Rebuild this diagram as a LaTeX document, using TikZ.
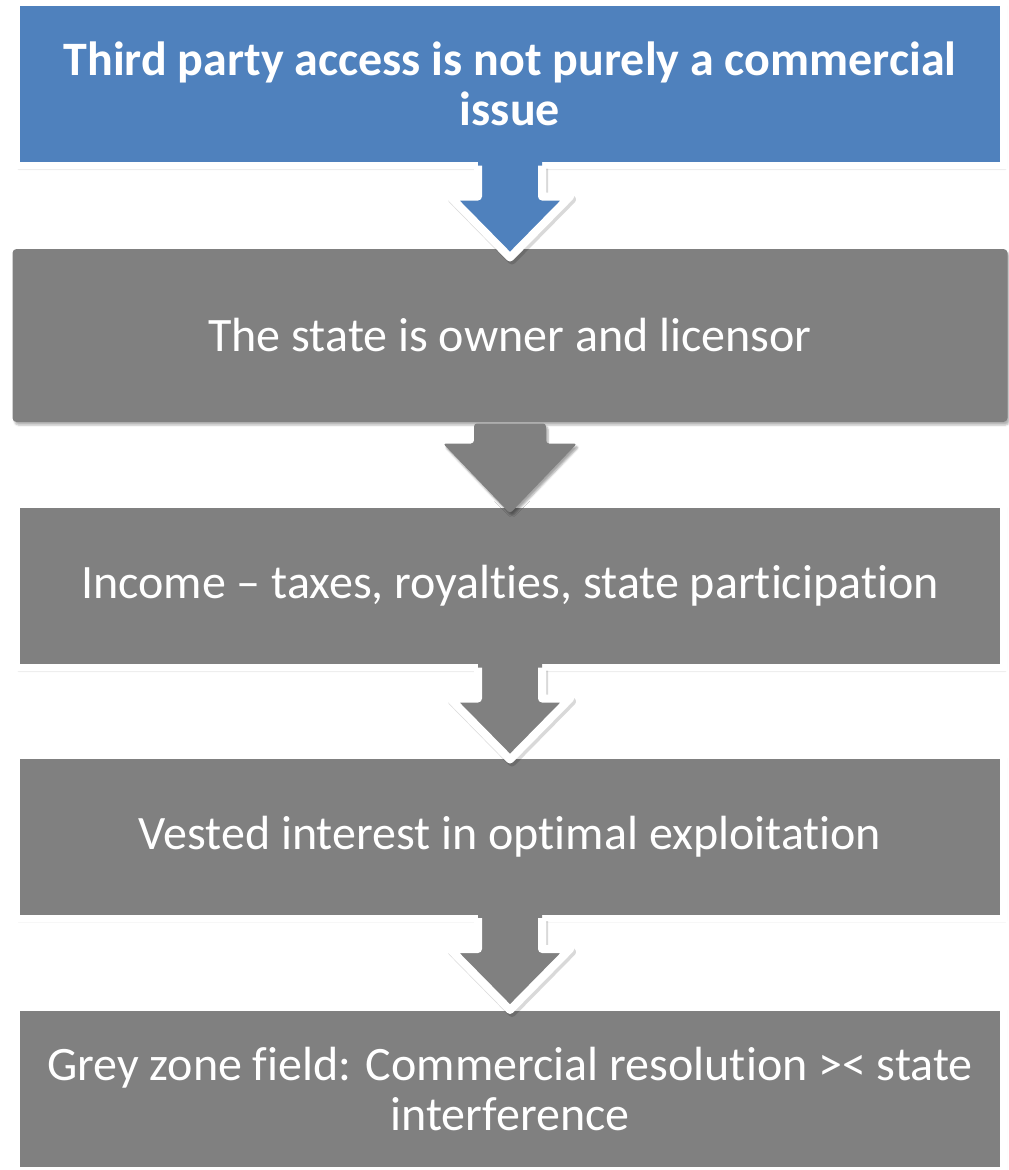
\documentclass[tikz,border=0pt]{standalone}
\usepackage{fontspec}
\setmainfont[Ligatures={NoCommon,NoContextual}, RawFeature={-liga;-clig;-calt;-dlig}]{Carlito}
\usetikzlibrary{calc,shadows.blur}
\definecolor{mBlue}{RGB}{79,129,189}
\definecolor{mGrey}{RGB}{128,128,128}

\tikzset{
  stepbox/.style={rectangle, fill=mGrey, draw=white, line width=7pt,
    minimum width=987, minimum height=163, inner sep=0pt,
    align=center, text=white,
    font=\fontsize{48}{50}\selectfont,
    blur shadow={shadow xshift=2pt, shadow yshift=-3pt, shadow opacity=30}},
  activebox/.style={stepbox, draw=none, rounded corners=4pt,
    minimum width=995, minimum height=173},
  arrowrim/.style={draw=white, line width=8pt, line join=round},
  arrowshade/.style={draw=black, opacity=.15, line width=8pt, line join=round,
    xshift=2pt, yshift=-3pt}
}

% block arrow with white rim below box #1, filled with #2
\newcommand{\rimarrow}[2]{%
  \begin{scope}[shift={(#1.south)}]
    \draw[arrowshade] (-32,-3.5) -- (-32,27.5) -- (-60,27.5) -- (0,88.5)
      -- (60,27.5) -- (32,27.5) -- (32,-3.5);
    \fill[#2] (-32,-12) -- (-32,27.5) -- (-60,27.5) -- (0,88.5)
      -- (60,27.5) -- (32,27.5) -- (32,-12) -- cycle;
    \draw[arrowrim] (-32,-3.5) -- (-32,27.5) -- (-60,27.5) -- (0,88.5)
      -- (60,27.5) -- (32,27.5) -- (32,-3.5);
  \end{scope}}

\begin{document}
\begin{tikzpicture}[x=1pt,y=-1pt]
  \useasboundingbox (0,0) rectangle (1009,1170);

  % steps
  \node[stepbox, fill=mBlue, font=\fontsize{48}{50}\selectfont\bfseries] (access) at (510,84)
    {Third party access is not purely a commercial\\issue};
  \node[activebox] (owner) at (510,335.5) {The state is owner and licensor};
  \node[stepbox] (income) at (510,586)
    {Income -- taxes, royalties, state participation};
  \node[stepbox] (interest) at (510,836.5) {Vested interest in optimal exploitation};
  \node[stepbox] (greyzone) at (510,1088.5)
    {Grey zone field: Commercial resolution >< state\\interference};

  % arrows
  \rimarrow{access}{mBlue}
  \begin{scope}[shift={(owner.south)}]
    \fill[mGrey, rounded corners=3pt, blur shadow={shadow xshift=2pt, shadow yshift=-3pt, shadow opacity=35}]
      (-36,-2) -- (-36,18) -- (-67,18) -- (0,88) -- (67,18) -- (36,18) -- (36,-2) -- cycle;
  \end{scope}
  \rimarrow{income}{mGrey}
  \rimarrow{interest}{mGrey}
\end{tikzpicture}
\end{document}
